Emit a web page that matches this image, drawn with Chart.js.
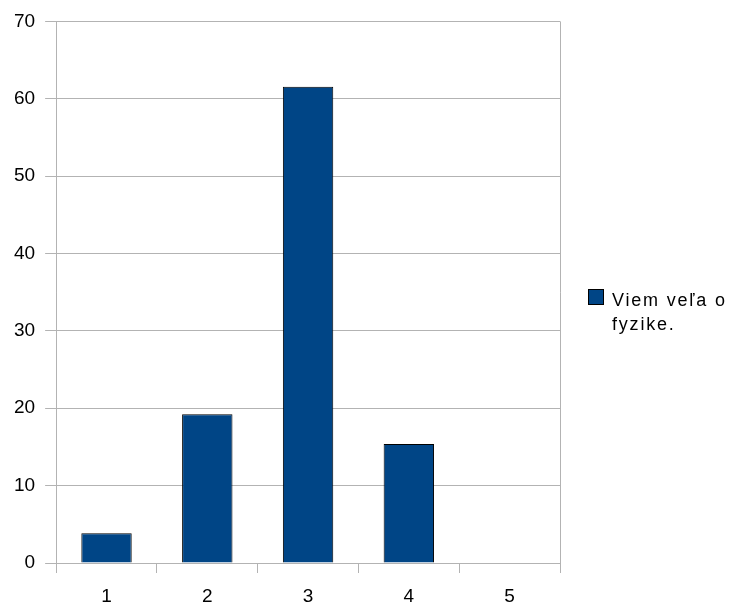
<!DOCTYPE html>
<html>
<head>
<meta charset="utf-8">
<script src="https://cdn.jsdelivr.net/npm/chart.js@4/dist/chart.umd.min.js"></script>
<style>
  html, body { margin: 0; padding: 0; background: #fff; }
  #wrap { width: 733px; height: 606px; }
</style>
</head>
<body>
<div id="wrap"><canvas id="c"></canvas></div>
<script>
const categories = ['1', '2', '3', '4', '5'];
const values = [3.85, 19.23, 61.54, 15.38, 0];
const seriesLabel = ['Viem veľa o', 'fyzike.'];
const yTicks = { min: 0, max: 70, step: 10 };

const gridGray = '#b3b3b3';
const barBlue = '#004586';

// legend drawn by hand so the label can wrap like the original
const sideLegend = {
  id: 'sideLegend',
  afterDraw(chart) {
    const ctx = chart.ctx;
    const ds = chart.data.datasets[0];
    const x = chart.chartArea.right + 28;
    const y = 289;
    ctx.save();
    ctx.fillStyle = ds.backgroundColor;
    ctx.strokeStyle = '#000';
    ctx.lineWidth = 1;
    ctx.fillRect(x, y, 16, 16);
    ctx.strokeRect(x + 0.5, y + 0.5, 15, 15);
    ctx.fillStyle = '#000';
    ctx.font = '18px "Liberation Sans", Arial, sans-serif';
    ctx.textBaseline = 'alphabetic';
    if ('letterSpacing' in ctx) ctx.letterSpacing = '1.8px';
    seriesLabel.forEach((line, i) => {
      ctx.fillText(line, x + 24, y + 17 + i * 24);
    });
    ctx.restore();
  }
};

new Chart(document.getElementById('c'), {
  type: 'bar',
  data: {
    labels: categories,
    datasets: [{
      label: seriesLabel.join(' '),
      data: values,
      backgroundColor: barBlue,
      borderColor: '#000',
      borderWidth: 1,
      categoryPercentage: 0.5,
      barPercentage: 1.0,
    }],
  },
  options: {
    responsive: true,
    maintainAspectRatio: false,
    animation: false,
    layout: { padding: { left: 4, right: 173, top: 20, bottom: -14 } },
    plugins: {
      legend: { display: false },
      tooltip: { enabled: false },
    },
    scales: {
      x: {
        offset: true,
        grid: {
          offset: true,
          color: (c) => (c.type !== 'tick' || c.index === 0) ? gridGray : 'rgba(0,0,0,0)',
          tickColor: gridGray,
          tickLength: 10,
        },
        border: { color: gridGray },
        ticks: {
          color: '#000',
          padding: 14,
          font: { family: '"Liberation Sans", Arial, sans-serif', size: 19, lineHeight: 1 },
        },
      },
      y: {
        min: yTicks.min,
        max: yTicks.max,
        grid: { color: gridGray, tickLength: 11 },
        border: { color: gridGray },
        ticks: {
          stepSize: yTicks.step,
          color: '#000',
          padding: 10,
          font: { family: '"Liberation Sans", Arial, sans-serif', size: 19 },
        },
      },
    },
  },
  plugins: [sideLegend],
});
</script>
</body>
</html>
